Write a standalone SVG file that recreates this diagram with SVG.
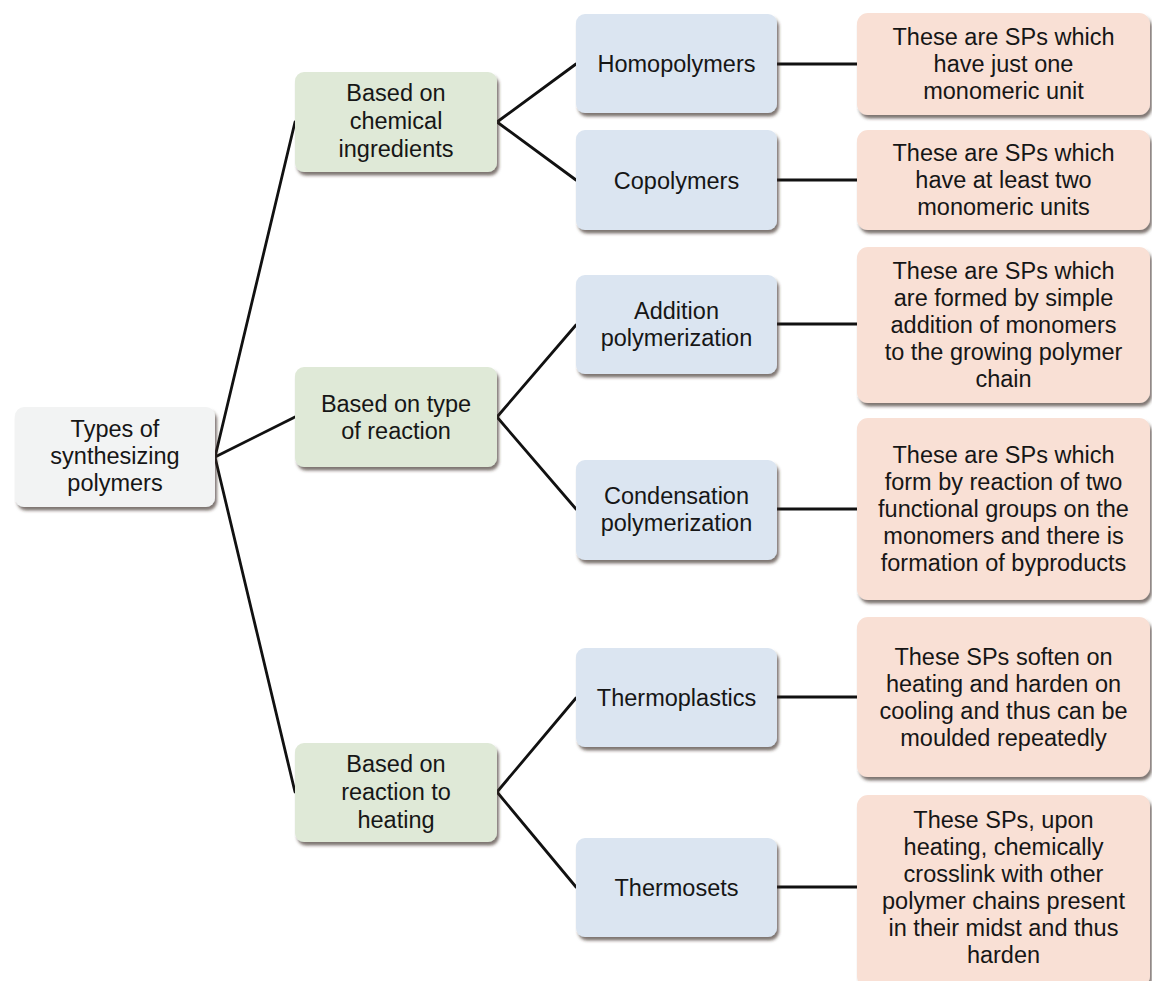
<svg xmlns="http://www.w3.org/2000/svg" width="1152" height="981" viewBox="0 0 1152 981">
<defs>
<filter id="sh" x="-10%" y="-10%" width="125%" height="135%">
<feDropShadow dx="2" dy="3.5" stdDeviation="1.8" flood-color="#3b2a22" flood-opacity="0.65"/>
</filter>
</defs>
<style>
.b{filter:url(#sh)}
.root{fill:#f2f3f3}
.g{fill:#dfe9d7}
.bl{fill:#dbe5f1}
.p{fill:#f9e0d5}
text{font-family:"Liberation Sans",Arial,sans-serif;font-size:23.5px;fill:#161616;text-anchor:middle}
.c line{stroke:#111;stroke-width:2.8;stroke-linecap:round}
</style>
<rect width="1152" height="981" fill="#ffffff"/>
<g class="c" id="connectors">
<line x1="215" y1="457" x2="295" y2="122"/>
<line x1="215" y1="457" x2="295" y2="417"/>
<line x1="215" y1="457" x2="295" y2="792"/>
<line x1="497" y1="122" x2="576" y2="64"/>
<line x1="497" y1="122" x2="576" y2="180"/>
<line x1="497" y1="417" x2="576" y2="325"/>
<line x1="497" y1="417" x2="576" y2="509"/>
<line x1="497" y1="792" x2="576" y2="698"/>
<line x1="497" y1="792" x2="576" y2="887"/>
<line x1="777" y1="64" x2="857" y2="64"/>
<line x1="777" y1="180" x2="857" y2="180"/>
<line x1="777" y1="324" x2="857" y2="324"/>
<line x1="777" y1="509" x2="857" y2="509"/>
<line x1="777" y1="697" x2="857" y2="697"/>
<line x1="777" y1="887" x2="857" y2="887"/>
</g>
<g id="root">
<rect class="b root" x="15" y="407" width="200" height="100" rx="9"/>
<text x="115" y="437">Types of</text>
<text x="115" y="464">synthesizing</text>
<text x="115" y="491">polymers</text>
</g>
<g id="chem">
<rect class="b g" x="295" y="72" width="202" height="100" rx="9"/>
<text x="396" y="101">Based on</text>
<text x="396" y="129">chemical</text>
<text x="396" y="157">ingredients</text>
</g>
<g id="reaction">
<rect class="b g" x="295" y="367" width="202" height="100" rx="9"/>
<text x="396" y="412">Based on type</text>
<text x="396" y="439">of reaction</text>
</g>
<g id="heating">
<rect class="b g" x="295" y="743" width="202" height="99" rx="9"/>
<text x="396" y="772">Based on</text>
<text x="396" y="800">reaction to</text>
<text x="396" y="828">heating</text>
</g>
<g id="homo">
<rect class="b bl" x="576" y="14" width="201" height="99" rx="9"/>
<text x="676.5" y="72">Homopolymers</text>
</g>
<g id="co">
<rect class="b bl" x="576" y="130" width="201" height="100" rx="9"/>
<text x="676.5" y="188.5">Copolymers</text>
</g>
<g id="addition">
<rect class="b bl" x="576" y="275" width="201" height="99" rx="9"/>
<text x="676.5" y="319">Addition</text>
<text x="676.5" y="346">polymerization</text>
</g>
<g id="condensation">
<rect class="b bl" x="576" y="460" width="201" height="100" rx="9"/>
<text x="676.5" y="504">Condensation</text>
<text x="676.5" y="531">polymerization</text>
</g>
<g id="thermoplastics">
<rect class="b bl" x="576" y="648" width="201" height="99" rx="9"/>
<text x="676.5" y="706">Thermoplastics</text>
</g>
<g id="thermosets">
<rect class="b bl" x="576" y="838" width="201" height="99" rx="9"/>
<text x="676.5" y="896">Thermosets</text>
</g>
<g id="d1">
<rect class="b p" x="857" y="13" width="293" height="102" rx="11"/>
<text x="1003.5" y="45">These are SPs which</text>
<text x="1003.5" y="72">have just one</text>
<text x="1003.5" y="99">monomeric unit</text>
</g>
<g id="d2">
<rect class="b p" x="857" y="130" width="293" height="100" rx="11"/>
<text x="1003.5" y="161">These are SPs which</text>
<text x="1003.5" y="188">have at least two</text>
<text x="1003.5" y="215">monomeric units</text>
</g>
<g id="d3">
<rect class="b p" x="857" y="247" width="293" height="156" rx="11"/>
<text x="1003.5" y="279">These are SPs which</text>
<text x="1003.5" y="306">are formed by simple</text>
<text x="1003.5" y="333">addition of monomers</text>
<text x="1003.5" y="360">to the growing polymer</text>
<text x="1003.5" y="387">chain</text>
</g>
<g id="d4">
<rect class="b p" x="857" y="418" width="293" height="182" rx="11"/>
<text x="1003.5" y="463">These are SPs which</text>
<text x="1003.5" y="490">form by reaction of two</text>
<text x="1003.5" y="517">functional groups on the</text>
<text x="1003.5" y="544">monomers and there is</text>
<text x="1003.5" y="571">formation of byproducts</text>
</g>
<g id="d5">
<rect class="b p" x="857" y="617" width="293" height="160" rx="11"/>
<text x="1003.5" y="665">These SPs soften on</text>
<text x="1003.5" y="692">heating and harden on</text>
<text x="1003.5" y="719">cooling and thus can be</text>
<text x="1003.5" y="746">moulded repeatedly</text>
</g>
<g id="d6">
<rect class="b p" x="857" y="795" width="293" height="192" rx="11"/>
<text x="1003.5" y="828">These SPs, upon</text>
<text x="1003.5" y="855">heating, chemically</text>
<text x="1003.5" y="882">crosslink with other</text>
<text x="1003.5" y="909">polymer chains present</text>
<text x="1003.5" y="936">in their midst and thus</text>
<text x="1003.5" y="963">harden</text>
</g>
</svg>
